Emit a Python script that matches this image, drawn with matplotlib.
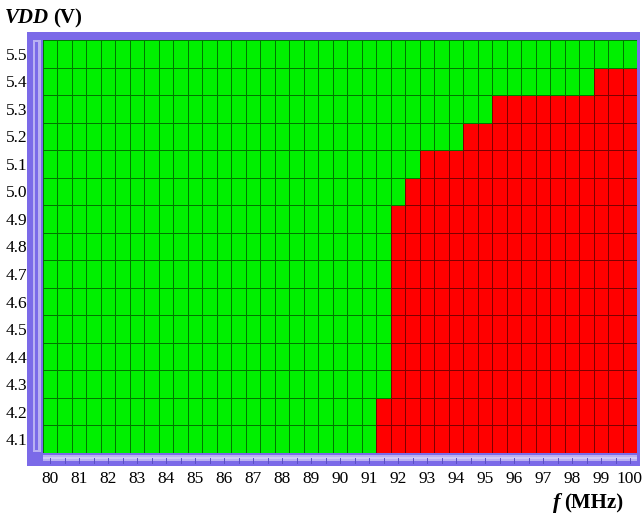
import numpy as np
import matplotlib
matplotlib.use("Agg")
import matplotlib.pyplot as plt
from matplotlib.patches import Rectangle
from matplotlib.colors import ListedColormap

# shmoo data: supply voltage rows, frequency columns (0.5 MHz step)
freqs = [80, 80.5, 81, 81.5, 82, 82.5, 83, 83.5, 84, 84.5, 85, 85.5, 86, 86.5,
         87, 87.5, 88, 88.5, 89, 89.5, 90, 90.5, 91, 91.5, 92, 92.5, 93, 93.5,
         94, 94.5, 95, 95.5, 96, 96.5, 97, 97.5, 98, 98.5, 99, 99.5, 100]
vdd = [4.1, 4.2, 4.3, 4.4, 4.5, 4.6, 4.7, 4.8, 4.9, 5.0, 5.1, 5.2, 5.3, 5.4, 5.5]
# first failing frequency for each vdd row (None = passes everywhere)
fail_from = [91.5, 91.5, 92, 92, 92, 92, 92, 92, 92, 92.5, 93, 94.5, 95.5, 99, None]
xticks = list(range(80, 101))
yticks = vdd

f_arr = np.array(freqs)
grid = np.zeros((len(vdd), len(freqs)))
for i, ff in enumerate(fail_from):
    if ff is not None:
        grid[i, f_arr >= ff] = 1

W, H = 642, 513
fig = plt.figure(figsize=(W / 100, H / 100), dpi=100)
fig.patch.set_facecolor("white")

# frame drawn in pixel coords
bg = fig.add_axes([0, 0, 1, 1])
bg.set_xlim(0, W)
bg.set_ylim(H, 0)
bg.axis("off")
purple = "#7b6ae8"
light = "#b9b0f2"
bg.add_patch(Rectangle((27, 32), 613, 434, facecolor=purple, edgecolor="none"))
# left inner strip
bg.add_patch(Rectangle((33, 40), 8, 412, facecolor=light, edgecolor="none"))
bg.add_patch(Rectangle((35, 42), 3, 408, facecolor=purple, edgecolor="none"))
# bottom inner strip with little ticks
bg.add_patch(Rectangle((43, 455), 594, 6, facecolor=light, edgecolor="none"))
bg.add_patch(Rectangle((43, 457), 594, 2, facecolor="#cfc8f6", edgecolor="none"))
for k in range(len(freqs)):
    xp = 43 + 14.5 * (k + 0.5)
    bg.plot([xp, xp], [458, 463], color="#5a4fc0", lw=0.7)

left, right = 43 / W, 637 / W
bottom, top = (H - 453) / H, (H - 40) / H
ax = fig.add_axes([left, bottom, right - left, top - bottom])

xe = np.concatenate([f_arr - 0.25, [f_arr[-1] + 0.25]])
v_arr = np.array(vdd)
ye = np.concatenate([v_arr - 0.05, [v_arr[-1] + 0.05]])
cmap = ListedColormap(["#00f000", "#ff0000"])
ax.pcolormesh(xe, ye, grid, cmap=cmap, vmin=0, vmax=1,
              edgecolors=(0, 0, 0, 0.5), linewidth=0.7)
ax.set_xlim(xe[0], xe[-1])
ax.set_ylim(ye[0], ye[-1])

for s in ax.spines.values():
    s.set_visible(False)

tfont = {"family": "Liberation Serif", "size": 12.5}
ax.set_xticks(xticks)
ax.set_xticklabels([str(t) for t in xticks], fontdict=tfont)
ax.set_yticks(yticks)
ax.set_yticklabels(["%.1f" % t for t in yticks], fontdict=tfont)
ax.tick_params(axis="x", length=0, pad=13)
ax.tick_params(axis="y", length=0, pad=11)

fig.text(5 / W, 1 - 18 / H, "VDD", fontsize=15, va="center", ha="left",
         family="Liberation Serif", weight="bold", style="italic")
fig.text(53 / W, 1 - 18 / H, "(V)", fontsize=15, va="center", ha="left",
         family="Liberation Serif", weight="bold")

fig.text(560 / W, 1 - 503 / H, "f", fontsize=16, va="center", ha="right",
         family="Liberation Serif", weight="bold", style="italic")
fig.text(564 / W, 1 - 503 / H, "(MHz)", fontsize=15, va="center", ha="left",
         family="Liberation Serif", weight="bold")

fig.savefig("out.png", dpi=100)
